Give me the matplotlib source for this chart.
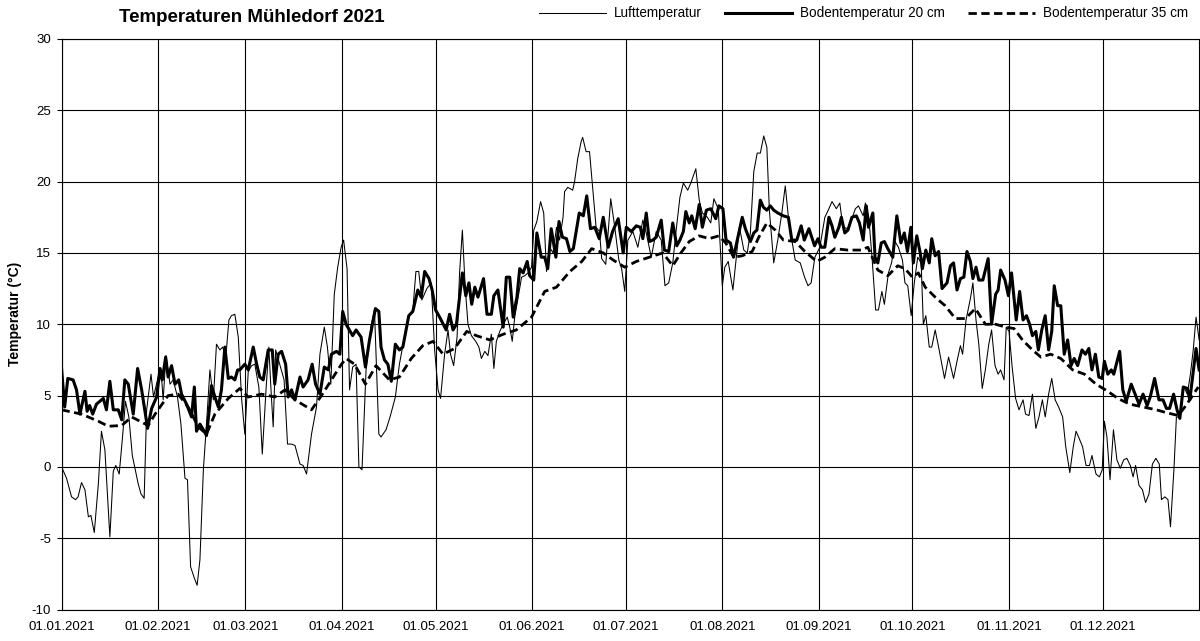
import matplotlib.pyplot as plt

plt.rcParams['font.family'] = ['Liberation Sans', 'DejaVu Sans']
plt.rcParams['axes.unicode_minus'] = False

# Tage seit 01.01.2021 und Temperaturen in °C
luft_tag = [
    0, 1.6, 3.2, 4.5, 5.3, 6.4, 7.5, 8.6, 9.4, 10.5, 11.8, 12.8, 13.9, 15.5, 16.6,
    17.4, 18.5, 19.6, 20.5, 21.6, 22.7, 24.6, 25.5, 26.5, 27.3, 28.7, 29.5, 31.0,
    31.9, 32.6, 33.5, 34.8, 35.8, 37.2, 38.3, 39.6, 40.4, 41.4, 42.6, 43.5, 44.4,
    45.5, 46.5, 47.6, 48.7, 49.7, 50.8, 51.7, 52.7, 53.7, 54.5, 55.6, 56.7, 57.8,
    58.8, 59.9, 61.0, 62.0, 63.3, 64.4, 65.6, 66.5, 67.2, 67.9, 68.7, 70.0, 71.4,
    72.5, 73.8, 74.9, 76.5, 77.5, 78.6, 80.2, 81.8, 82.9, 84.3, 85.3, 86.4, 87.5,
    88.6, 89.7, 90.5, 91.6, 92.4, 93.4, 94.5, 95.4, 96.4, 97.7, 99.3, 100.4, 101.8,
    102.5, 104.1, 105.4, 107.1, 108.4, 110.0, 111.4, 112.7, 113.7, 114.6, 115.6,
    117.2, 118.6, 119.7, 120.8, 121.6, 122.9, 124.0, 124.8, 125.8, 126.9, 127.7,
    128.6, 129.5, 130.4, 131.5, 132.9, 133.9, 134.7, 135.8, 136.8, 137.9, 138.7,
    139.5, 140.6, 141.7, 143.0, 143.8, 144.6, 145.4, 146.5, 147.6, 148.6, 149.7,
    150.8, 151.5, 152.5, 153.7, 154.7, 155.6, 156.6, 157.7, 158.8, 159.8, 160.9,
    161.4, 162.4, 164.0, 164.6, 165.6, 166.7, 167.2, 168.3, 169.4, 170.4, 171.5,
    172.6, 173.3, 174.6, 176.2, 177.5, 178.8, 179.7, 180.7, 181.7, 183.3, 184.9,
    186.5, 187.6, 189.2, 190.8, 192.4, 193.6, 194.8, 196.1, 197.3, 198.4, 199.5,
    200.9, 201.9, 203.5, 204.6, 205.6, 207.2, 208.3, 209.3, 210.7, 212.0, 212.8,
    213.9, 215.4, 216.5, 217.5, 218.9, 220.0, 221.0, 222.1, 223.2, 224.2, 225.3,
    226.3, 227.1, 228.5, 229.8, 231.1, 232.2, 233.3, 234.3, 235.4, 237.0, 238.4,
    239.5, 240.5, 241.7, 243.3, 244.9, 246.0, 247.2, 248.6, 249.7, 250.7, 252.3,
    253.4, 254.7, 255.7, 257.2, 257.9, 259.0, 260.1, 261.2, 262.1, 263.2, 264.0,
    265.3, 266.3, 267.4, 268.5, 269.8, 270.6, 271.5, 272.6, 273.6, 274.7, 275.8,
    276.5, 277.3, 278.4, 279.2, 280.3, 281.4, 283.3, 284.6, 286.2, 287.3, 288.4,
    289.1, 290.2, 291.6, 292.4, 293.4, 294.3, 295.4, 296.4, 297.5, 298.4, 299.5,
    300.5, 301.3, 302.4, 303.1, 304.0, 305.0, 306.1, 307.2, 308.5, 309.3, 310.4,
    311.5, 312.6, 313.6, 314.7, 315.6, 316.7, 317.7, 318.8, 319.9, 321.2, 322.2,
    323.5, 324.6, 325.5, 326.5, 327.6, 328.7, 329.8, 330.6, 331.9, 333.0, 333.9,
    334.6, 335.4, 336.4, 337.5, 338.6, 339.7, 340.8, 341.8, 342.9, 343.8, 344.6,
    345.7, 346.8, 347.8, 348.9, 350.0, 351.1, 352.2, 352.9, 354.0, 355.0, 355.8,
    356.9, 357.7, 358.8, 360.1, 361.2, 362.2, 363.1, 364.0, 365.0,
]
luft_temp = [
    0.0, -0.8, -2.1, -2.3, -2.1, -1.1, -1.6, -3.5, -3.4, -4.6, -1.2, 2.5, 1.2, -4.9, -0.3,
    0.1, -0.5, 2.2, 4.6, 3.5, 0.8, -1.2, -1.9, -2.2, 4.0, 6.5, 4.9, 6.3,
    6.8, 4.7, 7.8, 5.8, 6.1, 4.9, 3.0, -0.8, -0.9, -7.0, -7.8, -8.3, -6.5,
    -0.2, 3.0, 6.8, 4.7, 8.6, 8.2, 8.4, 7.7, 10.3, 10.6, 10.7, 9.1, 4.7,
    2.3, 6.7, 7.1, 7.2, 5.6, 0.9, 5.4, 8.4, 5.4, 2.8, 8.2, 7.2, 6.1,
    1.6, 1.6, 1.5, 0.2, 0.1, -0.5, 2.3, 4.2, 7.9, 9.8, 8.4, 5.8, 12.1,
    14.0, 15.4, 15.9, 13.9, 5.4, 7.0, 7.2, 0.0, -0.2, 6.8, 9.9, 11.0, 2.3,
    2.1, 2.6, 3.5, 4.9, 7.2, 9.1, 10.5, 11.0, 13.7, 13.7, 11.7,
    12.5, 12.9, 8.2, 5.4, 4.8, 7.9, 9.6, 7.9, 7.1, 9.1, 13.6,
    16.6, 12.6, 10.0, 9.2, 8.8, 8.4, 7.6, 8.1, 7.8, 9.3, 6.9,
    8.8, 9.5, 10.0, 10.5, 9.8, 8.8, 10.5, 11.9, 13.3, 13.4, 13.6,
    14.0, 16.6, 17.2, 18.6, 17.8, 13.7, 15.4, 15.0, 16.8, 15.9, 17.5,
    19.3, 19.6, 19.4, 20.0, 21.6, 22.8, 23.1, 22.1, 22.1, 19.6, 16.8,
    16.5, 14.6, 14.2, 18.8, 16.8, 14.5, 13.9, 12.3, 15.9, 16.5, 15.4,
    17.3, 16.4, 14.7, 16.5, 15.9, 12.7, 12.9, 14.3, 16.8, 18.9, 19.9,
    19.4, 19.9, 20.9, 18.7, 17.8, 17.5, 17.1, 18.8, 18.1, 12.7, 14.0,
    14.4, 12.4, 14.7, 16.8, 15.2, 15.0, 16.4, 20.7, 22.0, 22.0, 23.2,
    22.4, 18.0, 14.3, 15.9, 17.8, 19.7, 17.3, 15.9, 14.5, 14.3, 13.3,
    12.7, 12.9, 14.7, 15.4, 17.5, 18.0, 18.6, 18.1, 18.5, 16.8, 16.7,
    17.3, 18.1, 18.3, 17.6, 18.5, 17.5, 14.5, 11.0, 11.0, 12.3, 11.4,
    13.6, 14.3, 15.8, 15.4, 14.5, 12.9, 12.7, 10.6, 12.9, 14.7, 14.3,
    10.0, 10.6, 8.4, 8.4, 9.6, 8.4, 6.2, 7.7, 6.2, 7.4, 8.5,
    7.9, 10.3, 11.8, 12.9, 10.3, 8.6, 5.5, 6.8, 8.6, 9.6, 7.1,
    6.5, 6.8, 6.1, 9.8, 9.5, 7.0, 4.8, 4.0, 4.7, 3.7, 3.6,
    5.1, 2.7, 3.5, 4.7, 3.5, 5.1, 6.2, 4.7, 4.2, 3.5, 1.4,
    -0.4, 1.4, 2.5, 2.0, 1.4, 0.1, 0.1, 0.8, -0.5, -0.7, -0.2,
    3.2, 2.1, -0.9, 2.6, 0.5, -0.1, 0.5, 0.6, 0.1, -0.7, 0.1,
    -1.3, -1.6, -2.5, -1.9, 0.2, 0.6, 0.2, -2.3, -2.1, -2.3, -4.2,
    -0.2, 3.5, 3.5, 5.6, 5.1, 6.5, 8.2, 10.5, 8.9,
]

boden20_tag = [
    0, 1, 2, 3.7, 4.8, 5.9, 7.5, 8.2, 9, 10, 11.2, 13.4, 14.4, 15.5, 16.6, 18.2,
    19.3, 20.3, 21.4, 23, 24.4, 25.7, 26.7, 27.6, 28.9, 30.5, 31.6, 32.3, 33.4,
    34.2, 35.3, 36.4, 37.6, 38.5, 40.1, 41.7, 42.6, 43.3, 44.4, 45.5, 46.5, 47.6,
    48.1, 49.2, 50.3, 51.3, 52.4, 53.5, 54.5, 55.6, 56.5, 57.2, 58.8, 59.9, 61.5,
    62.6, 63.6, 64.7, 66.3, 67.6, 68.4, 69.5, 70.6, 71.9, 72.7, 73.8, 74.9, 76.5,
    77.5, 79.1, 80.4, 81.5, 82.9, 84.3, 85.6, 86.6, 88.2, 89.3, 90.2, 91.3, 93.4,
    94.5, 96.1, 97.5, 98.8, 100.7, 101.8, 102.5, 103.6, 104.7, 105.8, 107.1,
    108.4, 109.5, 111.4, 112.7, 114.3, 115.4, 116.5, 117.9, 118.9, 120, 121.3,
    123.4, 124.5, 125.6, 126.7, 128.6, 129.7, 130.7, 131.6, 132.6, 133.6, 135.4,
    136.5, 137.9, 138.7, 140, 141.7, 142.7, 143.8, 144.9, 146.1, 147, 148.1,
    149.4, 150.2, 151.5, 152.5, 153.9, 155, 156, 157.1, 158.6, 159.6, 160.7,
    162, 163.1, 164.2, 166.1, 167.4, 168.5, 169.7, 171.1, 172.5, 173.8, 175.4,
    176.8, 178.6, 180.2, 181.2, 182.8, 184.4, 185.7, 186.5, 187.6, 188.6, 189.7,
    190.8, 192.4, 193.4, 194.8, 196.1, 197.4, 198.4, 199.5, 200.3, 201.4, 202.2,
    203.3, 204.6, 205.6, 206.9, 208.3, 209.9, 210.9, 212.2, 213.2, 214.6, 215.6,
    216.7, 218.4, 219.4, 221, 222.1, 223.1, 224.2, 225.2, 226.3, 227.4, 228.5,
    229.8, 231.6, 233.2, 234.3, 235.9, 237.3, 238.3, 239.8, 240.7, 241.6, 242.7,
    243.7, 244.9, 246.2, 247.2, 248.1, 249.4, 250.2, 251.3, 252.3, 253.6, 255,
    256, 257.2, 258.2, 258.9, 260.3, 261, 261.9, 263, 264, 265.1, 266.7, 268,
    269.3, 270.4, 271.4, 272.5, 273.3, 274.4, 275.5, 276.2, 277.3, 278.4, 279.2,
    280.3, 281.4, 282.5, 284.1, 285.2, 286.2, 287.3, 288.4, 289.5, 290.5, 291.6,
    292.4, 293.4, 294.3, 295.6, 297.3, 298.4, 299.7, 300.5, 301.3, 302.7, 303.8,
    304.8, 306.3, 307.4, 308.5, 309.6, 310.6, 311.5, 312.6, 313.4, 314.5, 315.6,
    316.7, 317.7, 318.5, 319.6, 320.6, 321.7, 322.8, 323.9, 324.9, 326, 327.4,
    328.5, 329.6, 330.6, 331.7, 332.8, 333.9, 334.6, 335.7, 336.8, 337.6, 339.5,
    340.5, 341.6, 343.2, 344.8, 345.7, 347, 348.3, 349.3, 350.7, 352.1, 353.4,
    354.5, 355.5, 356.8, 357.9, 358.8, 359.9, 361.2, 362, 364, 365,
]
boden20_temp = [
    6.9, 4.2, 6.2, 6.1, 5.4, 3.7, 5.3, 3.9, 4.3, 3.7, 4.4, 4.8, 4.0, 6.0, 4.0, 4.0,
    3.3, 6.1, 5.8, 3.7, 6.9, 5.4, 4.0, 2.7, 4.1, 4.9, 6.9, 6.1, 7.7,
    6.3, 7.1, 5.8, 6.1, 5.1, 4.4, 3.5, 5.6, 2.5, 3.0, 2.6, 2.2, 4.4,
    5.7, 4.9, 4.2, 5.4, 8.4, 6.2, 6.3, 6.1, 6.8, 6.8, 7.2, 6.8, 8.4,
    7.2, 6.3, 6.1, 8.2, 8.2, 5.8, 7.9, 8.1, 7.2, 4.9, 5.4, 4.7, 6.3,
    5.6, 6.1, 7.2, 5.8, 5.1, 7.0, 6.8, 7.9, 8.1, 7.9, 10.9, 10.0, 9.2,
    9.6, 9.1, 7.0, 8.9, 11.1, 10.9, 8.4, 7.5, 7.2, 6.0, 8.6,
    8.2, 8.4, 10.6, 10.9, 12.4, 11.9, 13.7, 13.2, 12.4, 11.0, 10.5,
    9.6, 10.7, 9.6, 10.0, 13.6, 12.0, 12.9, 11.4, 12.6, 11.9, 13.2,
    10.7, 10.7, 12.0, 12.4, 9.8, 13.3, 13.3, 10.5, 11.9, 13.9, 13.6,
    14.4, 13.4, 13.1, 16.4, 14.7, 14.7, 13.9, 16.7, 14.7, 17.2, 16.1,
    16.0, 15.1, 15.3, 17.8, 17.6, 19.0, 16.7, 16.8, 16.0, 17.5, 15.4,
    16.5, 17.4, 15.0, 16.8, 16.5, 16.9, 16.8, 16.0, 17.8, 15.8, 15.9,
    16.1, 17.3, 15.2, 15.1, 17.1, 15.5, 15.9, 16.5, 17.9, 17.1, 17.6,
    16.7, 18.4, 16.8, 18.0, 18.1, 17.4, 18.3, 18.1, 15.9, 15.7, 14.7,
    15.8, 17.5, 16.7, 15.8, 16.4, 16.6, 18.7, 18.2, 18.0, 18.3, 18.0,
    17.8, 17.6, 17.5, 15.9, 15.9, 16.9, 15.9, 16.7, 16.1, 15.5, 16.0,
    15.4, 15.4, 17.5, 16.9, 16.1, 16.8, 17.5, 16.4, 16.6, 17.5, 17.6,
    17.1, 15.9, 18.3, 16.8, 17.8, 14.7, 14.3, 15.7, 15.8, 15.3, 14.7, 17.6,
    15.7, 16.4, 15.1, 16.8, 14.3, 16.2, 15.0, 13.9, 15.2, 14.3, 16.0,
    14.8, 15.1, 12.5, 12.9, 14.1, 14.3, 12.4, 13.2, 13.3, 15.1, 14.4,
    13.2, 14.0, 13.1, 13.1, 14.6, 10.0, 12.1, 12.4, 13.8, 13.1, 12.0,
    13.6, 10.3, 12.3, 10.3, 10.6, 10.0, 9.2, 9.5, 8.2, 9.6, 10.6,
    8.2, 9.5, 12.7, 11.3, 11.3, 7.9, 8.9, 7.1, 7.6, 7.1, 8.2,
    7.9, 8.3, 6.8, 7.9, 6.3, 6.2, 7.4, 6.5, 6.8, 6.5, 8.1,
    5.4, 4.6, 5.8, 4.9, 4.4, 5.1, 4.3, 4.9, 6.2, 4.7, 4.7,
    4.1, 4.1, 5.1, 4.0, 3.4, 5.6, 5.5, 4.7, 8.3, 6.8,
]

boden35_tag = [
    0, 6.4, 11.8, 15, 19.3, 22.5, 27.8, 30, 34.2, 37.4, 40.6, 43.9, 46.5, 49.2,
    53.5, 57.2, 59.9, 64.2, 68.4, 71.7, 74.9, 80.2, 83.4, 86.6, 89.8, 91.3, 94,
    97.5, 100.9, 105.2, 108.4, 112.2, 115.9, 119.2, 122.4, 126.1, 130, 133.1,
    137.4, 141.7, 145.9, 150.8, 155, 158.8, 163.1, 166.9, 170.1, 173.8, 177,
    180.7, 184.4, 188.6, 192.9, 196.1, 198.7, 201.4, 204.6, 207.8, 210.9, 213.1,
    215.7, 218.4, 221.6, 223.7, 226.3, 229, 231.6, 235.4, 238.5, 242.3, 244.9,
    248.1, 252.3, 256.6, 258.7, 261.9, 265.1, 268.3, 270.6, 273, 274.9, 277.1,
    280.3, 283.5, 286.8, 290, 293.2, 296.4, 299.7, 302.9, 305.6, 308.3, 311.5,
    314.2, 317.4, 320.6, 324.4, 328.2, 331.9, 335.7, 338.9, 342.7, 347, 351.3,
    354.5, 358.3, 360.4, 362.6, 364.7,
]
boden35_temp = [
    4.0, 3.7, 3.2, 2.85, 2.9, 3.5, 2.9, 3.7, 5.0, 5.1, 4.2, 2.8, 2.3, 3.7,
    4.8, 5.5, 4.9, 5.1, 4.9, 5.4, 4.7, 4.0, 5.0, 6.1, 7.2, 7.6, 7.2,
    5.8, 7.1, 6.1, 6.3, 7.6, 8.5, 8.8, 7.9, 8.3, 9.5, 9.2,
    8.9, 9.3, 9.6, 10.5, 12.3, 12.6, 13.7, 14.4, 15.3, 15.0, 14.5,
    14.0, 14.4, 14.7, 15.0, 14.1, 15.0, 15.8, 16.2, 16.0, 16.2, 15.7,
    14.7, 14.8, 15.1, 16.1, 17.1, 16.6, 15.9, 15.8, 15.1, 14.4, 14.7,
    15.3, 15.2, 15.2, 15.4, 13.8, 13.4, 14.1, 13.9, 13.3, 13.6, 12.6,
    11.9, 11.3, 10.4, 10.4, 11.1, 10.0, 10.0, 9.8, 9.7, 8.9, 8.2,
    7.7, 7.9, 7.6, 6.8, 6.5, 5.8, 5.3, 4.8, 4.4, 4.2, 4.0,
    3.8, 3.6, 4.2, 4.9, 5.6,
]

monat_tag = [0, 31, 59, 90, 120, 151, 181, 212, 243, 273, 304, 334]
monat_label = ['01.01.2021', '01.02.2021', '01.03.2021', '01.04.2021', '01.05.2021',
               '01.06.2021', '01.07.2021', '01.08.2021', '01.09.2021', '01.10.2021',
               '01.11.2021', '01.12.2021']


def main():
    fig = plt.figure(figsize=(12, 6.41), dpi=100)
    ax = fig.add_axes([0.0513, 0.0491, 0.9480, 0.8901])

    ax.plot(luft_tag, luft_temp, color='black', lw=0.75, label='Lufttemperatur', zorder=3)
    ax.plot(boden20_tag, boden20_temp, color='black', lw=2.2,
            label='Bodentemperatur 20 cm', zorder=4)
    ax.plot(boden35_tag, boden35_temp, color='black', lw=2.0, linestyle=(0, (3, 1.6)),
            label='Bodentemperatur 35 cm', zorder=5)

    ax.set_xlim(0, 365)
    ax.set_ylim(-10, 30)
    ax.set_yticks(range(-10, 31, 5))
    ax.set_xticks(monat_tag)
    ax.set_xticklabels(monat_label)
    ax.grid(True, color='black', lw=0.8, zorder=0)
    ax.set_axisbelow(True)
    for s in ax.spines.values():
        s.set_color('black')
        s.set_linewidth(0.8)
    ax.tick_params(axis='y', labelsize=9.5, length=3.5, pad=4, width=0.8)
    ax.tick_params(axis='x', labelsize=9.5, length=0, pad=8)

    fig.text(0.210, 0.972, 'Temperaturen Mühledorf 2021', fontsize=13.5,
             fontweight='bold', ha='center', va='center')
    fig.text(0.0125, 0.51, 'Temperatur (°C)', fontsize=10, fontweight='bold',
             rotation=90, ha='center', va='center')

    fig.legend(loc='center right', bbox_to_anchor=(0.990, 0.979), ncol=3,
               frameon=False, fontsize=9.75, handlelength=5.0, handletextpad=0.55,
               columnspacing=1.7, borderpad=0, borderaxespad=0)

    fig.savefig('out.png', dpi=100)


if __name__ == '__main__':
    main()
